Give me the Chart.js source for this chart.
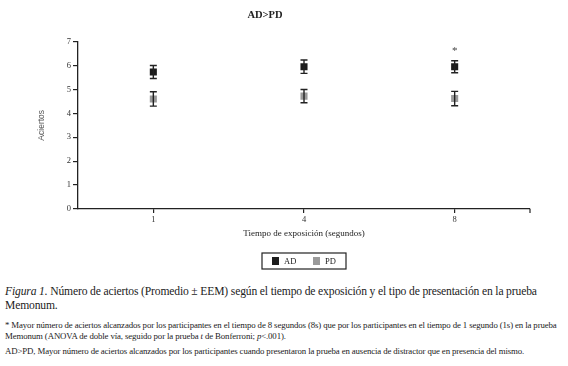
<!DOCTYPE html>
<html>
<head>
<meta charset="utf-8">
<script src="https://cdn.jsdelivr.net/npm/chart.js@4/dist/chart.umd.min.js"></script>
<style>
  html, body { margin: 0; padding: 0; background: #fff; }
  body { width: 568px; height: 366px; overflow: hidden; position: relative; font-family: "Liberation Serif", "DejaVu Serif", serif; color: #222; }
  #wrap { position: absolute; left: 0; top: 0; width: 568px; height: 275px; }
  .cap { position: absolute; left: 5px; width: 562px; white-space: nowrap; }
  #c1 { top: 285px; font-size: 11.6px; line-height: 14px; letter-spacing: -0.15px; }
  #c2 { top: 320px; font-size: 8.8px; line-height: 10.5px; letter-spacing: -0.12px; }
  #c3 { top: 346px; font-size: 8.8px; line-height: 10.5px; letter-spacing: -0.12px; }
</style>
</head>
<body>
<div id="wrap"><canvas id="chart" width="568" height="275"></canvas></div>
<div class="cap" id="c1"><i>Figura 1.</i> Número de aciertos (Promedio ± EEM) según el tiempo de exposición y el tipo de presentación en la prueba<br>Memonum.</div>
<div class="cap" id="c2">* Mayor número de aciertos alcanzados por los participantes en el tiempo de 8 segundos (8s) que por los participantes en el tiempo de 1 segundo (1s) en la prueba<br>Memonum (ANOVA de doble vía, seguido por la prueba <i>t</i> de Bonferroni; <i>p</i>&lt;.001).</div>
<div class="cap" id="c3">AD&gt;PD, Mayor número de aciertos alcanzados por los participantes cuando presentaron la prueba en ausencia de distractor que en presencia del mismo.</div>
<script>
const categories = ['1', '4', '8'];
const seriesNames = ['AD', 'PD'];
const adMeans = [5.73, 5.95, 5.95];
const adErrors = [0.27, 0.28, 0.25];
const pdMeans = [4.60, 4.72, 4.62];
const pdErrors = [0.30, 0.28, 0.30];
const sigMarks = ['', '', '*'];
const yTicks = [0, 1, 2, 3, 4, 5, 6, 7];

const SERIF = '"Liberation Serif", "DejaVu Serif", serif';
const colors = ['#1c1c1c', '#9a9a9a'];

const errorBars = {
  id: 'errorBars',
  afterDatasetsDraw(chart) {
    const ctx = chart.ctx, y = chart.scales.y;
    ctx.save();
    ctx.strokeStyle = '#222';
    ctx.lineWidth = 1.4;
    chart.data.datasets.forEach((ds, di) => {
      const meta = chart.getDatasetMeta(di);
      meta.data.forEach((pt, i) => {
        const v = ds.data[i], e = ds.errors[i];
        const yt = y.getPixelForValue(v + e), yb = y.getPixelForValue(v - e);
        const x = pt.x, w = 3.5;
        ctx.beginPath();
        ctx.moveTo(x, yt); ctx.lineTo(x, yb);
        ctx.moveTo(x - w, yt); ctx.lineTo(x + w, yt);
        ctx.moveTo(x - w, yb); ctx.lineTo(x + w, yb);
        ctx.stroke();
      });
    });
    const ds0 = chart.data.datasets[0];
    const meta0 = chart.getDatasetMeta(0);
    ctx.fillStyle = '#444';
    ctx.font = '11px ' + SERIF;
    ctx.textAlign = 'center';
    ctx.textBaseline = 'middle';
    sigMarks.forEach((m, i) => {
      if (!m) return;
      const yt = y.getPixelForValue(ds0.data[i] + ds0.errors[i]);
      ctx.fillText(m, meta0.data[i].x, yt - 10);
    });
    const a = chart.chartArea;
    ctx.strokeStyle = '#222';
    ctx.lineWidth = 1.2;
    ctx.beginPath();
    ctx.moveTo(a.right, a.bottom); ctx.lineTo(a.right, a.bottom + 4);
    ctx.stroke();
    ctx.restore();
  }
};

const boxLegend = {
  id: 'boxLegend',
  afterDraw(chart) {
    const ctx = chart.ctx, a = chart.chartArea;
    const cx = (a.left + a.right) / 2;
    const top = 253, h = 16, w = 84;
    const left = cx - w / 2;
    ctx.save();
    ctx.strokeStyle = '#222';
    ctx.lineWidth = 1.2;
    ctx.strokeRect(left, top, w, h);
    ctx.font = '8.5px ' + SERIF;
    ctx.textBaseline = 'middle';
    ctx.textAlign = 'left';
    chart.data.datasets.forEach((ds, i) => {
      const x0 = left + 10 + i * 41;
      ctx.fillStyle = ds.backgroundColor;
      ctx.fillRect(x0, top + 4, 7, 8);
      ctx.fillStyle = '#222';
      ctx.fillText(ds.label, x0 + 12, top + h / 2 + 0.5);
    });
    ctx.restore();
  }
};

new Chart(document.getElementById('chart'), {
  type: 'line',
  data: {
    labels: categories,
    datasets: [
      { label: seriesNames[0], data: adMeans, errors: adErrors, showLine: false,
        pointStyle: 'rect', pointRadius: 5, pointHoverRadius: 5,
        backgroundColor: colors[0], borderColor: colors[0], pointBorderWidth: 0 },
      { label: seriesNames[1], data: pdMeans, errors: pdErrors, showLine: false,
        pointStyle: 'rect', pointRadius: 5, pointHoverRadius: 5,
        backgroundColor: colors[1], borderColor: colors[1], pointBorderWidth: 0 }
    ]
  },
  options: {
    responsive: false,
    animation: false,
    layout: { padding: { left: 0, right: 38, top: 0, bottom: 36 } },
    plugins: {
      legend: { display: false },
      tooltip: { enabled: false },
      title: {
        display: true, text: 'AD>PD', color: '#222',
        font: { family: SERIF, size: 10.5, weight: 'bold' },
        padding: { top: 9, bottom: 20 }
      }
    },
    scales: {
      x: {
        type: 'category', offset: true,
        afterFit(s) { s.height = 30; },
        grid: { display: true, drawOnChartArea: false, offset: false, tickLength: 4, color: '#222', lineWidth: 1.2 },
        border: { display: true, color: '#222', width: 1.3 },
        ticks: { color: '#333', font: { family: SERIF, size: 8.5 }, padding: 2 },
        title: { display: true, text: 'Tiempo de exposición (segundos)', color: '#222',
                 font: { family: SERIF, size: 9 }, padding: { top: 1, bottom: 0 } }
      },
      y: {
        min: yTicks[0], max: yTicks[yTicks.length - 1],
        afterFit(s) { s.width = 78; },
        afterBuildTicks(s) { s.ticks = yTicks.map(v => ({ value: v })); },
        grid: { display: true, drawOnChartArea: false, tickLength: 5, color: '#222', lineWidth: 1.2 },
        border: { display: true, color: '#222', width: 1.3 },
        ticks: { color: '#333', font: { family: SERIF, size: 8.5 }, padding: 2 },
        title: { display: true, text: 'Aciertos', color: '#555',
                 font: { family: '"Liberation Sans", "DejaVu Sans", sans-serif', size: 8.5 }, padding: { top: 37, bottom: 0 } }
      }
    }
  },
  plugins: [errorBars, boxLegend]
});
</script>
</body>
</html>
